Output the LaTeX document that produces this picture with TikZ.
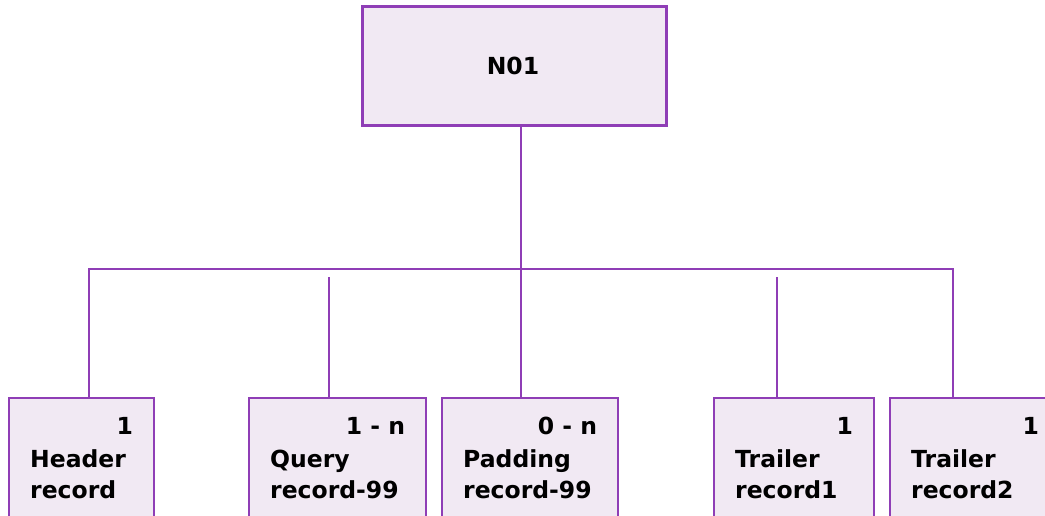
\documentclass[tikz,border=0pt]{standalone}
\usepackage{fontspec}
\setmainfont{DejaVu Sans}
\usetikzlibrary{calc}
\definecolor{pline}{RGB}{143,62,182}
\definecolor{pfill}{RGB}{241,233,243}
\tikzset{
  box/.style={draw=pline, fill=pfill, line width=2.2pt, rectangle, inner sep=0pt, anchor=north west},
  lbl/.style={inner sep=0pt, font=\fontsize{23.5}{28}\selectfont\bfseries, text=black},
  link/.style={draw=pline, line width=2.3pt},
}
\begin{document}
\begin{tikzpicture}[x=1pt,y=-1pt]
\useasboundingbox (0,0) rectangle (1045,515);
\clip (0,0) rectangle (1045,515);
% top box
\node[box, line width=2.6pt, minimum width=304pt, minimum height=119pt] (n01) at (361,5) {};
\node[lbl] (n01t) at (513,66) {N01};
% bottom boxes
\node[box, minimum width=145pt, minimum height=140pt] (hdr) at (8,397) {};
\node[box, minimum width=177pt, minimum height=140pt] (qry) at (248,397) {};
\node[box, minimum width=176pt, minimum height=140pt] (pad) at (441,397) {};
\node[box, minimum width=160pt, minimum height=140pt] (tr1) at (713,397) {};
\node[box, minimum width=170pt, minimum height=140pt] (tr2) at (889,397) {};
% texts
\foreach \b/\n/\la/\lb in {hdr/1/Header/record, qry/1 - n/Query/record-99, pad/0 - n/Padding/record-99, tr1/1/Trailer/record1, tr2/1/Trailer/record2}{
  \node[lbl, anchor=base east] (\b-n) at ($(\b.north east)+(-22,37)$) {\n};
  \node[lbl, anchor=base west] (\b-a) at ($(\b.north west)+(22,70)$) {\la};
  \node[lbl, anchor=base west] (\b-b) at ($(\b.north west)+(22,101)$) {\lb};
}
% connector points
\coordinate (c1) at (89,269);
\coordinate (c2) at (329,277);
\coordinate (c3) at (521,269);
\coordinate (c4) at (777,277);
\coordinate (c5) at (953,269);
\draw[link] (n01.south -| c3) -- (c3 |- pad.north);
\draw[link] (c1 |- hdr.north) -- (c1) -- (c5) -- (c5 |- tr2.north);
\draw[link] (c2) -- (c2 |- qry.north);
\draw[link] (c4) -- (c4 |- tr1.north);
\end{tikzpicture}
\end{document}
